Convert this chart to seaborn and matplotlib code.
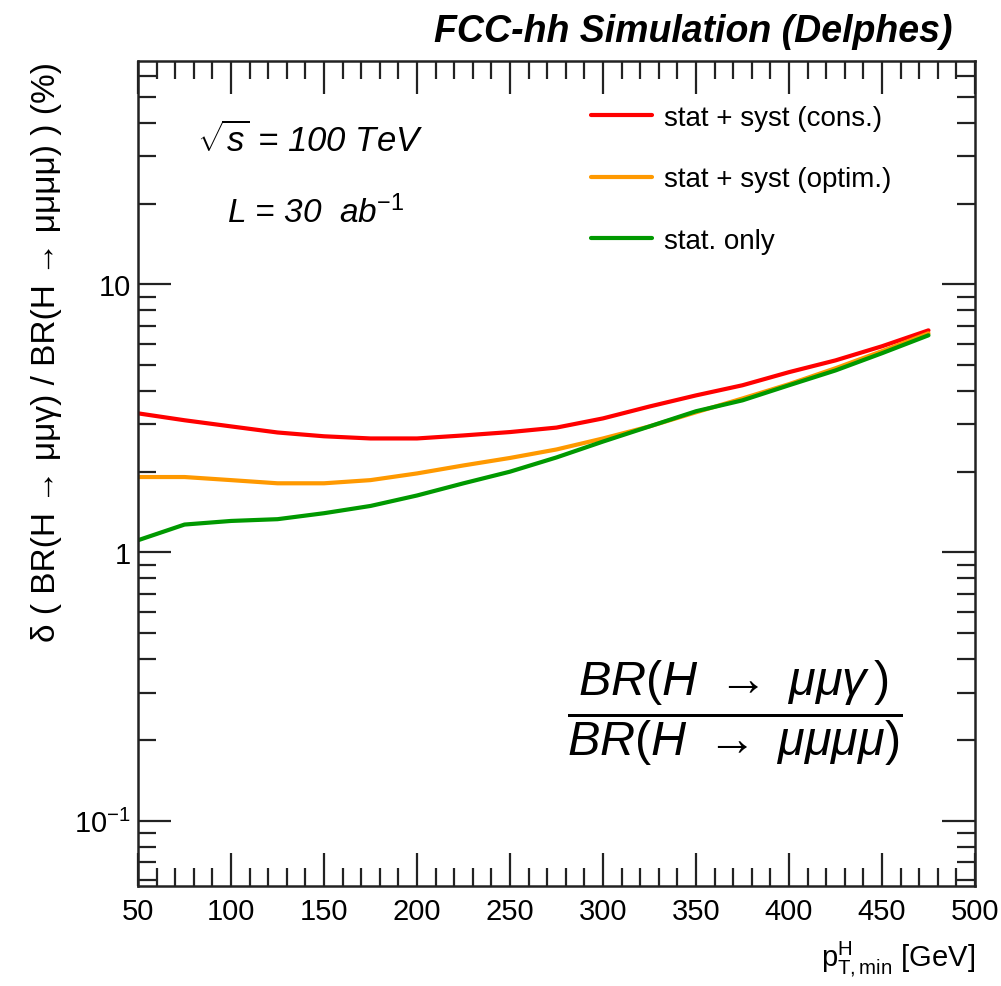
import numpy as np
import pandas as pd
import seaborn as sns
import matplotlib.pyplot as plt
from matplotlib.ticker import FixedLocator, FixedFormatter, MultipleLocator, LogLocator, NullFormatter

# values (pT,min in GeV, relative uncertainty in %)
pt_min = [50, 75, 100, 125, 150, 175, 200, 225, 250, 275, 300, 325, 350, 375, 400, 425, 450, 475]
cons = [3.30, 3.11, 2.95, 2.80, 2.71, 2.66, 2.66, 2.73, 2.81, 2.92, 3.16, 3.50, 3.85, 4.20, 4.70, 5.20, 5.87, 6.73]
optim = [1.91, 1.91, 1.86, 1.81, 1.81, 1.86, 1.97, 2.11, 2.25, 2.42, 2.66, 2.95, 3.33, 3.75, 4.24, 4.86, 5.63, 6.56]
stat_only = [1.11, 1.27, 1.31, 1.33, 1.40, 1.49, 1.63, 1.81, 2.00, 2.26, 2.59, 2.95, 3.36, 3.69, 4.20, 4.77, 5.53, 6.45]

labels = ["stat + syst (cons.)", "stat + syst (optim.)", "stat. only"]
colors = ["#ff0000", "#ff9900", "#009900"]

df = pd.concat([
    pd.DataFrame({"pt": pt_min, "unc": cons, "kind": labels[0]}),
    pd.DataFrame({"pt": pt_min, "unc": optim, "kind": labels[1]}),
    pd.DataFrame({"pt": pt_min, "unc": stat_only, "kind": labels[2]}),
])

sns.set_theme(style="ticks")
plt.rcParams["font.family"] = ["Liberation Sans", "DejaVu Sans"]
plt.rcParams["mathtext.fontset"] = "custom"
plt.rcParams["mathtext.rm"] = "Liberation Sans"
plt.rcParams["mathtext.it"] = "Liberation Sans:italic"
plt.rcParams["mathtext.bf"] = "Liberation Sans:bold"
plt.rcParams["text.color"] = "black"
plt.rcParams["axes.labelcolor"] = "black"
plt.rcParams["xtick.color"] = "black"
plt.rcParams["ytick.color"] = "black"

fig = plt.figure(figsize=(10.01, 9.87), dpi=100)
ax = fig.add_axes([0.1379, 0.1013, 0.8361, 0.8359])

sns.lineplot(data=df, x="pt", y="unc", hue="kind", hue_order=labels,
             palette=colors, linewidth=3, ax=ax)

ax.set_yscale("log")
ax.set_xlim(50, 500)
ax.set_ylim(0.057, 68)

# ticks, ROOT style
ax.xaxis.set_major_locator(MultipleLocator(50))
ax.xaxis.set_minor_locator(MultipleLocator(10))
ax.yaxis.set_major_locator(FixedLocator([0.1, 1, 10]))
ax.yaxis.set_major_formatter(FixedFormatter(["$10^{-1}$", "1", "10"]))
ax.yaxis.set_minor_locator(LogLocator(base=10, subs=np.arange(2, 10)))
ax.yaxis.set_minor_formatter(NullFormatter())
ax.tick_params(which="both", direction="in", top=True, right=True, color="#222222")
ax.tick_params(which="major", length=24, width=1.6, labelsize=21)
ax.tick_params(which="minor", length=13, width=1.6)
ax.tick_params(axis="x", pad=8)
ax.tick_params(axis="y", pad=5)
for s in ax.spines.values():
    s.set_linewidth(1.8)
    s.set_color("#222222")

ax.set_xlabel(r"p$_{\mathrm{T,min}}^{\mathrm{H}}$ [GeV]", fontsize=21, loc="right", labelpad=10)
ax.set_ylabel("δ ( BR(H → μμγ) / BR(H → μμμμ) ) (%)", fontsize=24, loc="top", labelpad=9)

handles, _ = ax.get_legend_handles_labels()
ax.legend(handles, labels, loc="upper left", bbox_to_anchor=(0.541, 0.947),
          frameon=False, fontsize=20, handlelength=2.2, handletextpad=0.45,
          labelspacing=1.28, borderpad=0, borderaxespad=0)

ax.text(0.0705, 0.891, r"$\sqrt{s}$ = 100 TeV", transform=ax.transAxes,
        fontsize=25, style="italic", va="baseline", ha="left")
ax.text(0.106, 0.805, r"L = 30  ab$^{-1}$", transform=ax.transAxes,
        fontsize=24, style="italic", va="baseline", ha="left")
ax.text(0.713, 0.211, r"$\dfrac{BR(H\ \rightarrow\ \mu\mu\gamma\,)}{BR(H\ \rightarrow\ \mu\mu\mu\mu)}$",
        transform=ax.transAxes, fontsize=35, ha="center", va="center")

fig.text(0.952, 0.9574, "FCC-hh Simulation (Delphes)", fontsize=27,
         fontweight="bold", style="italic", ha="right", va="baseline")

fig.savefig("out.png", dpi=100)
